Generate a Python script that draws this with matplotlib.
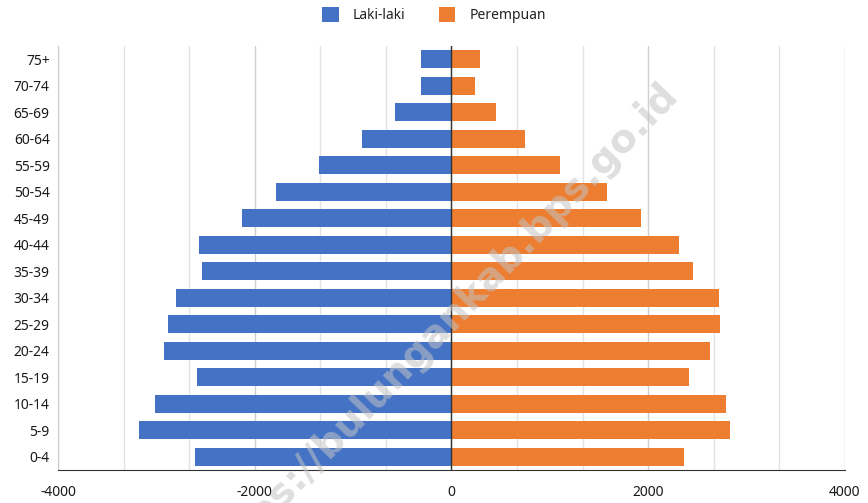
import matplotlib
matplotlib.use("Agg")
import matplotlib.pyplot as plt
import numpy as np
from matplotlib.ticker import MultipleLocator, FixedLocator

plt.rcParams['font.family'] = ['Noto Sans', 'DejaVu Sans']

age_groups = ["0-4", "5-9", "10-14", "15-19", "20-24", "25-29", "30-34", "35-39",
              "40-44", "45-49", "50-54", "55-59", "60-64", "65-69", "70-74", "75+"]
laki_laki = [-2604, -3176, -3010, -2583, -2919, -2885, -2797, -2541,
             -2571, -2132, -1783, -1345, -910, -575, -310, -310]
perempuan = [2366, 2836, 2794, 2412, 2624, 2731, 2715, 2457,
             2309, 1930, 1585, 1100, 750, 450, 236, 285]
x_ticks = [-4000, -2000, 0, 2000, 4000]

fig = plt.figure(figsize=(8.68, 5.03), dpi=100)
ax = fig.add_axes([0.0668, 0.0656, 0.9735 - 0.0668, 0.9085 - 0.0656])

y = np.arange(len(age_groups))
ax.barh(y, laki_laki, height=0.68, color="#4472C4", label="Laki-laki", zorder=3)
ax.barh(y, perempuan, height=0.68, color="#ED7D31", label="Perempuan", zorder=3)

ax.set_xlim(-4000, 4000)
ax.set_ylim(-0.5, len(age_groups) - 0.5)
ax.set_yticks(y)
ax.set_yticklabels(age_groups)
ax.xaxis.set_major_locator(FixedLocator(x_ticks))
ax.set_xticklabels([str(v) for v in x_ticks])
ax.xaxis.set_minor_locator(MultipleLocator(8000 / 12))
ax.grid(axis='x', which='minor', color='#e3e3e3', linewidth=1, zorder=0)
ax.grid(axis='x', which='major', color='#d0d0d0', linewidth=1, zorder=0)
ax.axvline(0, color='#333333', linewidth=1, zorder=4)

for s in ['top', 'right']:
    ax.spines[s].set_visible(False)
ax.spines['left'].set_color('#cccccc')
ax.spines['bottom'].set_color('#333333')
ax.tick_params(axis='both', which='both', length=0, labelsize=10, colors='#1a1a1a')
ax.tick_params(axis='x', pad=11)
ax.tick_params(axis='y', pad=6)

leg = fig.legend(loc='upper center', bbox_to_anchor=(0.5, 1.01), ncol=2, frameon=False,
                 fontsize=10, handlelength=1.2, handleheight=1.2, columnspacing=2.4,
                 handletextpad=1.0)
for t in leg.get_texts():
    t.set_color('#222222')

fig.text(0.508, 0.35, "https://bulungankab.bps.go.id", fontsize=28, fontweight='bold',
         family='DejaVu Sans', color='#c4c4c4', alpha=0.55, rotation=46,
         ha='center', va='center', zorder=10)

fig.savefig("out.png", dpi=100)
